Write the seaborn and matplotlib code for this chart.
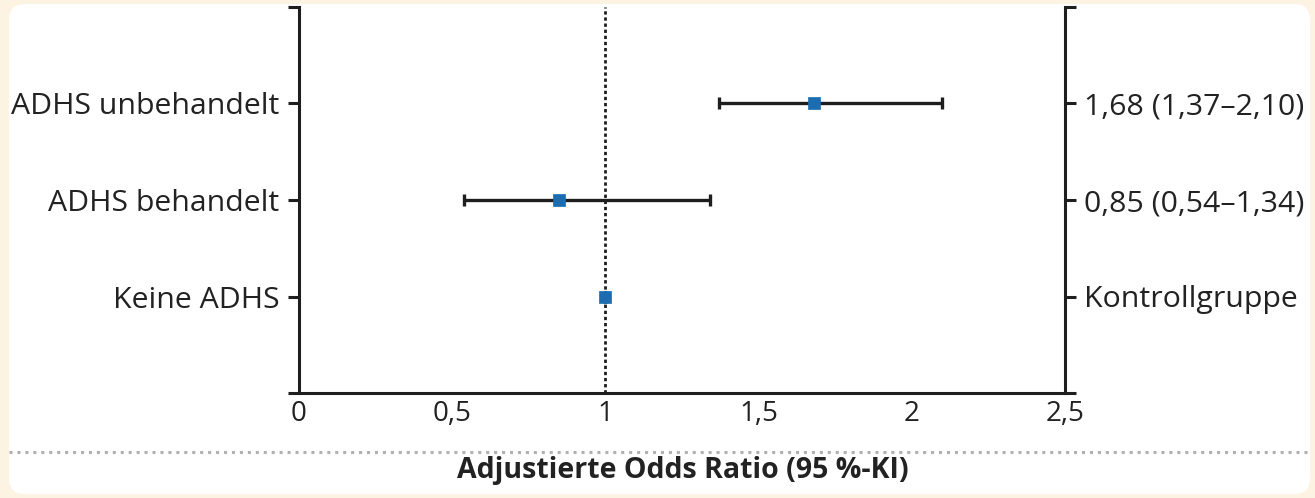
import numpy as np
import pandas as pd
import seaborn as sns
import matplotlib
matplotlib.use("Agg")
import matplotlib.pyplot as plt
from matplotlib.patches import FancyBboxPatch
from matplotlib.lines import Line2D

# ---- data ----
groups = ["ADHS unbehandelt", "ADHS behandelt", "Keine ADHS"]
odds_ratio = [1.68, 0.85, 1.00]
ci_low = [1.37, 0.54, 1.00]
ci_high = [2.10, 1.34, 1.00]
right_labels = ["1,68 (1,37–2,10)", "0,85 (0,54–1,34)", "Kontrollgruppe"]
x_ticks = [0, 0.5, 1, 1.5, 2, 2.5]
x_ticklabels = ["0", "0,5", "1", "1,5", "2", "2,5"]
x_label = "Adjustierte Odds Ratio (95 %-KI)"

sns.set_theme(style="white")
plt.rcParams["font.family"] = ["Open Sans", "DejaVu Sans"]

W, H = 1315, 498
fig = plt.figure(figsize=(W / 100, H / 100), dpi=100)
fig.patch.set_facecolor("#fdf3e2")

# white rounded panel
panel = FancyBboxPatch((9 / W, 4 / H), (1310 - 9) / W, (494 - 4) / H,
                       boxstyle="round,pad=0,rounding_size=0.012",
                       transform=fig.transFigure, facecolor="white",
                       edgecolor="none", zorder=-10, mutation_aspect=W / H)
fig.patches.append(panel)

left, right = 299 / W, 1065 / W
bottom, top = 1 - 393 / H, 1 - 7 / H
ax = fig.add_axes([left, bottom, right - left, top - bottom])
ax.set_facecolor("none")

df = pd.DataFrame({"group": groups, "pos": np.arange(len(groups)),
                   "or": odds_ratio, "lo": ci_low, "hi": ci_high})

ink = "#1e1e1e"
# reference line
ax.axvline(1.0, color=ink, lw=2.0, ls=(0, (1.2, 1.0)), zorder=1)

# CI error bars
err = np.array([df["or"] - df["lo"], df["hi"] - df["or"]])
ax.errorbar(df["or"], df["pos"], xerr=err, fmt="none", ecolor=ink,
            elinewidth=2.4, capsize=4.5, capthick=2.4, zorder=2)

sns.scatterplot(data=df, x="or", y="pos", marker="s", s=85,
                color="#1b6db0", edgecolor="#1b6db0", linewidth=0.5,
                ax=ax, zorder=3, legend=False)

ax.set_xlim(0, 2.5)
ax.set_ylim(3, -1)

ticks_y = [-1, 0, 1, 2, 3]
ax.set_yticks(ticks_y)
ax.set_yticklabels([""] + groups + [""])
ax.set_xticks(x_ticks)
ax.set_xticklabels(x_ticklabels)
ax.set_xlabel("")
ax.set_ylabel("")

ax.spines["top"].set_visible(False)
for s in ["left", "right", "bottom"]:
    ax.spines[s].set_visible(True)
    ax.spines[s].set_linewidth(2.2)
    ax.spines[s].set_color(ink)

ax.tick_params(axis="y", which="both", left=True, right=False, length=8,
               width=2.2, color=ink, direction="out", pad=6,
               labelsize=21.8, labelcolor="#222222")
ax.tick_params(axis="x", length=0, pad=5, labelsize=20, labelcolor="#222222")

ax2 = ax.twinx()
ax2.set_ylim(3, -1)
ax2.set_yticks(ticks_y)
ax2.set_yticklabels([""] + right_labels + [""])
for s in ["top", "left", "bottom", "right"]:
    ax2.spines[s].set_visible(False)
ax2.tick_params(axis="y", right=True, left=False, length=8, width=2.2,
                color=ink, direction="out", pad=6, labelsize=21.8,
                labelcolor="#222222")
ax2.grid(False)
ax.grid(False)

# dotted separator and x label
fig.add_artist(Line2D([9 / W, 1310 / W], [1 - 452 / H, 1 - 452 / H],
                      transform=fig.transFigure, color="#b0b0b0", lw=2.2,
                      ls=(0, (1.0, 1.6))))
fig.text(683 / W, 1 - 470 / H, x_label, ha="center", va="center",
         fontsize=20.5, fontweight="bold", color="#222222")

fig.savefig("out.png", dpi=100, facecolor=fig.get_facecolor())
